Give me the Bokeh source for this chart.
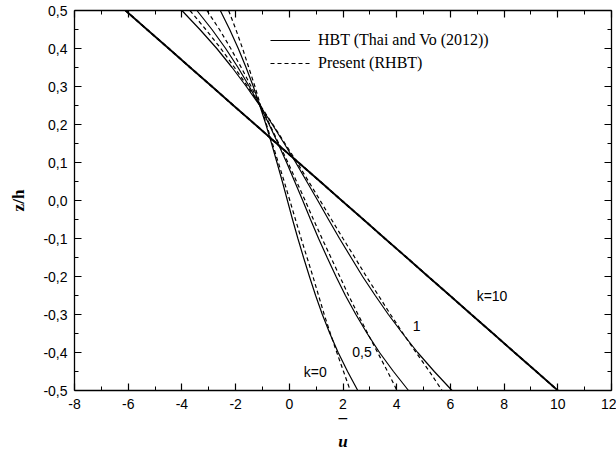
from bokeh.plotting import figure
from bokeh.models import (Range1d, LinearAxis, FixedTicker, CustomJSTickFormatter,
                          Legend, LegendItem, Label)
from bokeh.embed import file_html
from bokeh.resources import INLINE

# ---- data ----
z = [0.5, 0.45, 0.4, 0.35, 0.3, 0.25, 0.2, 0.15, 0.1, 0.05, 0.0,
     -0.05, -0.1, -0.15, -0.2, -0.25, -0.3, -0.35, -0.4, -0.45, -0.5]

k0_hbt = [-2.57, -2.22, -1.90, -1.61, -1.34, -1.10, -0.87, -0.66, -0.46, -0.26, -0.07,
          0.12, 0.32, 0.53, 0.75, 0.98, 1.23, 1.51, 1.82, 2.17, 2.55]
k0_rhbt = [-2.26, -1.99, -1.74, -1.51, -1.28, -1.07, -0.85, -0.63, -0.41, -0.19, 0.02,
           0.23, 0.44, 0.66, 0.88, 1.09, 1.30, 1.53, 1.77, 2.02, 2.27]

k05_hbt = [-3.44, -2.88, -2.37, -1.91, -1.49, -1.10, -0.75, -0.42, -0.10, 0.20, 0.50,
           0.79, 1.09, 1.41, 1.74, 2.09, 2.48, 2.90, 3.36, 3.88, 4.44]
k05_rhbt = [-3.07, -2.60, -2.18, -1.79, -1.42, -1.07, -0.73, -0.39, -0.05, 0.27, 0.59,
            0.90, 1.22, 1.55, 1.88, 2.21, 2.56, 2.92, 3.29, 3.66, 4.01]

k1_hbt = [-4.00, -3.33, -2.70, -2.13, -1.60, -1.10, -0.63, -0.19, 0.24, 0.65, 1.06,
          1.46, 1.87, 2.30, 2.73, 3.20, 3.69, 4.22, 4.78, 5.40, 6.06]
k1_rhbt = [-3.70, -3.11, -2.55, -2.04, -1.55, -1.08, -0.61, -0.16, 0.29, 0.72, 1.15,
           1.57, 2.00, 2.44, 2.87, 3.32, 3.77, 4.24, 4.72, 5.22, 5.69]

k10_hbt = [-6.10, -5.30, -4.49, -3.69, -2.88, -2.08, -1.27, -0.47, 0.34, 1.15, 1.95,
           2.76, 3.56, 4.37, 5.17, 5.98, 6.78, 7.59, 8.39, 9.20, 10.00]
k10_rhbt = [-6.10, -5.30, -4.49, -3.69, -2.88, -2.08, -1.27, -0.47, 0.34, 1.15, 1.95,
            2.76, 3.56, 4.37, 5.17, 5.98, 6.78, 7.59, 8.39, 9.20, 10.00]

x_ticks = [-8, -6, -4, -2, 0, 2, 4, 6, 8, 10, 12]
x_minor = [-7, -5, -3, -1, 1, 3, 5, 7, 9, 11]
y_ticks = [-0.5, -0.4, -0.3, -0.2, -0.1, 0.0, 0.1, 0.2, 0.3, 0.4, 0.5]
y_minor = [-0.45, -0.35, -0.25, -0.15, -0.05, 0.05, 0.15, 0.25, 0.35, 0.45]

legend_labels = ["HBT (Thai and Vo (2012))", "Present (RHBT)"]
curve_labels = ["k=0", "0,5", "1", "k=10"]

# ---- figure ----
p = figure(width=616, height=455, output_backend="svg", toolbar_location=None,
           x_range=Range1d(-8, 12), y_range=Range1d(-0.5, 0.5),
           min_border_left=74, min_border_right=5, min_border_top=10, min_border_bottom=65,
           x_axis_label="\u2013\nu", y_axis_label="z/h", background_fill_color="white")
p.grid.visible = False
p.outline_line_color = None

xticker = FixedTicker(ticks=x_ticks, minor_ticks=x_minor)
yticker = FixedTicker(ticks=y_ticks, minor_ticks=y_minor)
xfmt = CustomJSTickFormatter(code="return String(tick);")
yfmt = CustomJSTickFormatter(code="return tick.toFixed(1).replace('.', ',');")
blankfmt = CustomJSTickFormatter(code="return '';")


def style_axis(ax, labels=True):
    ax.axis_line_color = "black"
    ax.axis_line_width = 1.3
    ax.major_tick_in = 7
    ax.major_tick_out = 0
    ax.minor_tick_in = 4
    ax.minor_tick_out = 0
    ax.major_tick_line_color = "black"
    ax.minor_tick_line_color = "black"
    ax.major_tick_line_width = 1.2
    ax.minor_tick_line_width = 1.0
    ax.major_label_text_font = "Liberation Sans"
    ax.major_label_text_font_size = "14px"
    ax.major_label_text_color = "black"
    ax.major_label_standoff = 8
    if not labels:
        ax.formatter = blankfmt
        ax.major_label_standoff = 0


bottom = p.below[0]
left = p.left[0]
bottom.ticker = xticker
bottom.formatter = xfmt
left.ticker = yticker
left.formatter = yfmt
style_axis(bottom)
style_axis(left)
left.major_label_standoff = 7

bottom.axis_label_text_font = "Liberation Serif"
bottom.axis_label_text_font_style = "bold italic"
bottom.axis_label_text_font_size = "17px"
bottom.axis_label_text_color = "black"
bottom.axis_label_text_line_height = 1.3
bottom.axis_label_standoff = -4

left.axis_label_text_font = "Liberation Serif"
left.axis_label_text_font_style = "bold"
left.axis_label_text_font_size = "17px"
left.axis_label_text_color = "black"
left.axis_label_standoff = 12

top = LinearAxis(ticker=xticker)
style_axis(top, labels=False)
p.add_layout(top, "above")
right = LinearAxis(ticker=yticker)
style_axis(right, labels=False)
p.add_layout(right, "right")

# ---- curves ----
solid_w = 1.2
dash_w = 1.2
dash = "4 3"
r_hbt = p.line(k0_hbt, z, line_color="black", line_width=solid_w)
r_rhbt = p.line(k0_rhbt, z, line_color="black", line_width=dash_w, line_dash=dash)
p.line(k05_hbt, z, line_color="black", line_width=solid_w)
p.line(k05_rhbt, z, line_color="black", line_width=dash_w, line_dash=dash)
p.line(k1_hbt, z, line_color="black", line_width=solid_w)
p.line(k1_rhbt, z, line_color="black", line_width=dash_w, line_dash=dash)
p.line(k10_hbt, z, line_color="black", line_width=1.8)
p.line(k10_rhbt, z, line_color="black", line_width=1.8, line_dash=dash)

# ---- legend ----
legend = Legend(items=[LegendItem(label=legend_labels[0], renderers=[r_hbt]),
                       LegendItem(label=legend_labels[1], renderers=[r_rhbt])],
                location=(196, 317), glyph_width=40, glyph_height=20, label_height=20,
                label_standoff=8, spacing=3, padding=0, margin=0,
                border_line_color=None, background_fill_alpha=0,
                label_text_font="Liberation Serif", label_text_font_size="16px",
                label_text_color="black")
p.add_layout(legend, "center")

# ---- curve annotations ----
font = "Liberation Sans"
for txt, (lx, ly) in zip(curve_labels, [(0.97, -0.452), (2.71, -0.399), (4.74, -0.329), (7.55, -0.25)]):
    p.add_layout(Label(x=lx, y=ly, text=txt, text_font=font, text_font_size="14px",
                       text_align="center", text_baseline="middle", text_color="black"))

open("out.html", "w").write(file_html(p, INLINE))
